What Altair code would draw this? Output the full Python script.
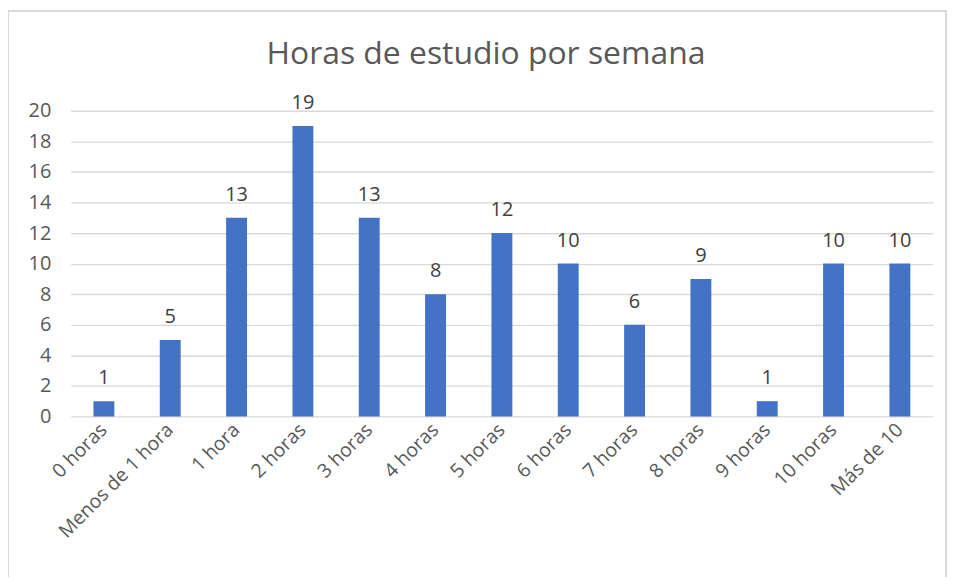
import altair as alt
import pandas as pd

categories = ["0 horas", "Menos de 1 hora", "1 hora", "2 horas", "3 horas", "4 horas",
              "5 horas", "6 horas", "7 horas", "8 horas", "9 horas", "10 horas", "Más de 10"]
values = [1, 5, 13, 19, 13, 8, 12, 10, 6, 9, 1, 10, 10]
y_ticks = [0, 2, 4, 6, 8, 10, 12, 14, 16, 18, 20]

df = pd.DataFrame({"cat": categories, "val": values})

W, H = 866, 307
FONT = "Open Sans"
GREY = "#595959"

x = alt.X("cat:N", sort=categories, title=None,
          scale=alt.Scale(paddingInner=0.685, paddingOuter=0.3425),
          axis=alt.Axis(labelAngle=-45, labelAlign="right", labelBaseline="middle",
                        labelFontSize=19.5, labelColor=GREY, labelFont=FONT,
                        ticks=False, domain=False, labelPadding=10, labelOverlap=False))
y = alt.Y("val:Q", title=None,
          scale=alt.Scale(domain=[0, 20]),
          axis=alt.Axis(values=y_ticks, labelFontSize=20, labelColor=GREY,
                        labelFont=FONT, ticks=False, domain=False, labelPadding=20,
                        labelOverlap=False, gridColor="#d9d9d9", gridWidth=1.3))

bars = alt.Chart(df).mark_bar(color="#4472C4").encode(x=x, y=y)
labels = alt.Chart(df).mark_text(baseline="bottom", dy=-13, fontSize=20, color="#404040",
                                 font=FONT).encode(x=x, y=y, text="val:Q")
border = alt.Chart(df).mark_rect(fill=None, stroke="#d9d9d9", strokeWidth=1.5).encode(
    x=alt.value(-63), x2=alt.value(879), y=alt.value(-100), y2=alt.value(500))

chart = alt.layer(border, bars, labels).properties(
    width=W, height=H,
    title=alt.TitleParams("Horas de estudio por semana", fontSize=32, font=FONT,
                          fontWeight="normal", color=GREY, anchor="middle", frame="group",
                          baseline="alphabetic", offset=-86, dx=-16),
    autosize=alt.AutoSizeParams(type="none"),
    padding={"left": 63, "top": 102, "right": 14, "bottom": 160},
).configure(background="white").configure_view(stroke=None)

chart.save("out.html", embed_options={"renderer": "svg", "actions": False})
